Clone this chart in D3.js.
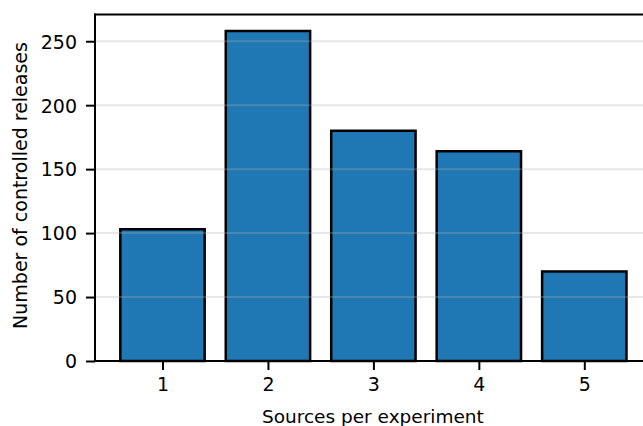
<!DOCTYPE html>
<html>
<head>
<meta charset="utf-8">
<script src="https://cdn.jsdelivr.net/npm/d3@7"></script>
<style>
  html, body { margin: 0; padding: 0; background: #fff; }
  svg { display: block; }
  text { font-family: "DejaVu Sans", sans-serif; fill: #000; }
</style>
</head>
<body>
<svg id="chart" width="643" height="426"></svg>
<script>
const categories = [1, 2, 3, 4, 5];
const counts = [103, 258, 180, 164, 70];
const yTicks = [0, 50, 100, 150, 200, 250];
const xTickLabels = ["1", "2", "3", "4", "5"];
const xLabel = "Sources per experiment";
const yLabel = "Number of controlled releases";

(function () {
const mLeft = 95, mTop = 14.5, mBottom = 361, mRight = 651.8;
const fs = 18.5, tfs = 19;

const svg = d3.select("#chart");

const x = d3.scaleLinear().domain([0.36, 5.64]).range([mLeft, mRight]);
const y = d3.scaleLinear().domain([0, d3.max(counts) * 1.05]).range([mBottom, mTop]);
const barW = 0.8;

// bars
svg.append("g").selectAll("rect").data(categories).join("rect")
  .attr("x", (d) => x(d - barW / 2))
  .attr("width", (d) => x(d + barW / 2) - x(d - barW / 2))
  .attr("y", (d, i) => y(counts[i]))
  .attr("height", (d, i) => y(0) - y(counts[i]))
  .attr("fill", "#1f77b4")
  .attr("stroke", "#000")
  .attr("stroke-width", 2.5);

// grid (drawn on top, semi-transparent)
svg.append("g").selectAll("line").data(yTicks).join("line")
  .attr("x1", mLeft).attr("x2", mRight)
  .attr("y1", (d) => y(d)).attr("y2", (d) => y(d))
  .attr("stroke", "#b0b0b0")
  .attr("stroke-opacity", 0.3)
  .attr("stroke-width", 2);

// y axis
const yAxis = d3.axisLeft(y).tickValues(yTicks).tickSize(9).tickPadding(9).tickFormat(d3.format("d"));
const gy = svg.append("g").attr("transform", `translate(${mLeft},0)`).call(yAxis);
gy.select(".domain").remove();
gy.selectAll(".tick line").attr("stroke", "#000").attr("stroke-width", 2);
gy.selectAll(".tick text").attr("font-size", tfs).attr("font-family", "DejaVu Sans").attr("dy", "0.36em");

// x axis
const xAxis = d3.axisBottom(x).tickValues(categories).tickSize(9).tickPadding(8).tickFormat((d, i) => xTickLabels[i]);
const gx = svg.append("g").attr("transform", `translate(0,${mBottom})`).call(xAxis);
gx.select(".domain").remove();
gx.selectAll(".tick line").attr("stroke", "#000").attr("stroke-width", 2);
gx.selectAll(".tick text").attr("font-size", tfs).attr("font-family", "DejaVu Sans");

// spines
const sp = svg.append("g").attr("stroke", "#000").attr("stroke-width", 2).attr("fill", "none");
sp.append("line").attr("x1", mLeft).attr("x2", mLeft).attr("y1", mTop).attr("y2", mBottom).attr("stroke-linecap", "square");
sp.append("line").attr("x1", mLeft).attr("x2", mRight).attr("y1", mBottom).attr("y2", mBottom).attr("stroke-linecap", "square");
sp.append("line").attr("x1", mLeft).attr("x2", mRight).attr("y1", mTop).attr("y2", mTop).attr("stroke-linecap", "square");
sp.append("line").attr("x1", mRight).attr("x2", mRight).attr("y1", mTop).attr("y2", mBottom);

// labels
svg.append("text")
  .attr("x", (x(0.36) + x(5.64)) / 2 - 0.5)
  .attr("y", 423)
  .attr("text-anchor", "middle")
  .attr("font-size", fs)
  .text(xLabel);

svg.append("text")
  .attr("transform", `translate(26.5,185.5) rotate(-90)`)
  .attr("text-anchor", "middle")
  .attr("font-size", 19)
  .text(yLabel);
})();
</script>
</body>
</html>
